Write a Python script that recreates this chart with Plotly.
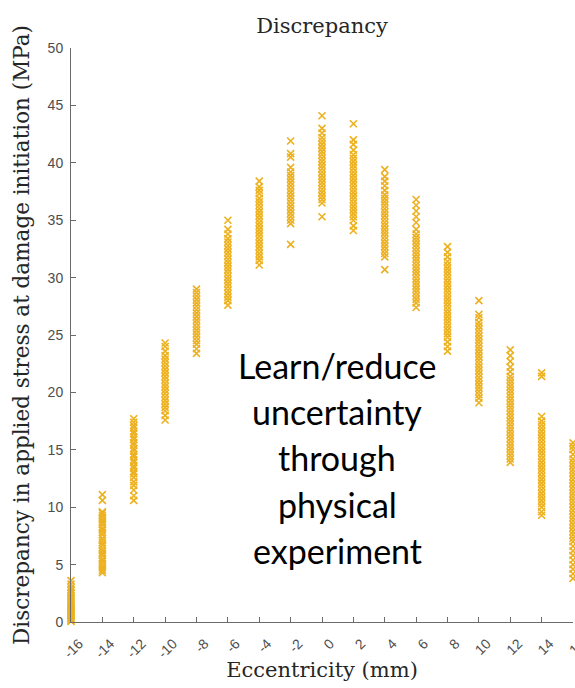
import plotly.graph_objects as go

# Eccentricity levels (mm) and the stress discrepancy samples (MPa) at each level
eccentricity = [-16, -14, -12, -10, -8, -6, -4, -2, 0, 2, 4, 6, 8, 10, 12, 14, 16]
tick_text = ["-16", "-14", "-12", "-10", "-8", "-6", "-4", "-2", "0",
             "2", "4", "6", "8", "10", "12", "14", "16"]

d_m16 = [0.05, 0.15, 0.25, 0.35, 0.45, 0.55, 0.65, 0.8, 0.9, 1.0, 1.1, 1.25, 1.4,
         1.55, 1.7, 1.9, 2.1, 2.3, 2.5, 2.6, 2.8, 3.0, 3.3, 3.6]
d_m14 = [4.3, 4.5, 4.7, 4.9, 5.1, 5.3, 5.5, 5.8, 6.0, 6.2, 6.4, 6.7, 6.9, 7.1, 7.3,
         7.6, 7.8, 8.0, 8.2, 8.5, 8.7, 8.9, 9.1, 9.3, 9.5, 9.6, 10.6, 11.1]
d_m12 = [10.6, 11.0, 11.5, 11.9, 12.2, 12.6, 12.9, 13.1, 13.4, 13.6, 13.9, 14.1, 14.4,
         14.6, 14.9, 15.1, 15.4, 15.6, 15.9, 16.1, 16.4, 16.6, 16.9, 17.1, 17.4, 17.7]
d_m10 = [17.6, 18.0, 18.4, 18.7, 19.0, 19.3, 19.6, 19.9, 20.2, 20.5, 20.8, 21.1, 21.4,
         21.7, 22.0, 22.3, 22.6, 22.9, 23.2, 23.6, 24.0, 24.3]
d_m8 = [23.4, 23.8, 24.2, 24.5, 24.8, 25.1, 25.4, 25.7, 26.0, 26.3, 26.6, 26.9, 27.2,
        27.5, 27.8, 28.1, 28.4, 28.7, 29.0]
d_m6 = [27.6, 28.0, 28.3, 28.6, 28.9, 29.2, 29.5, 29.8, 30.1, 30.4, 30.7, 31.0, 31.3,
        31.6, 31.9, 32.2, 32.5, 32.8, 33.1, 33.4, 33.8, 34.2, 35.0]
d_m4 = [31.1, 31.5, 31.8, 32.1, 32.4, 32.7, 33.0, 33.3, 33.6, 33.9, 34.2, 34.5, 34.8,
        35.1, 35.4, 35.7, 36.0, 36.3, 36.6, 36.9, 37.3, 37.6, 37.9, 38.4]
d_m2 = [32.9, 34.7, 35.0, 35.3, 35.6, 35.9, 36.2, 36.5, 36.8, 37.1, 37.4, 37.7, 38.0,
        38.3, 38.6, 38.9, 39.2, 39.6, 40.5, 40.8, 41.9]
d_0 = [35.3, 36.5, 36.8, 37.1, 37.4, 37.7, 38.0, 38.3, 38.6, 38.9, 39.2, 39.5, 39.8,
       40.1, 40.4, 40.7, 41.0, 41.3, 41.6, 41.9, 42.2, 42.6, 43.0, 44.1]
d_2 = [34.1, 34.5, 35.0, 35.3, 35.6, 35.9, 36.2, 36.5, 36.8, 37.1, 37.4, 37.7, 38.0,
       38.3, 38.6, 38.9, 39.2, 39.5, 39.8, 40.1, 40.4, 40.7, 41.1, 41.6, 42.0, 43.4]
d_4 = [30.7, 31.8, 32.1, 32.4, 32.7, 33.0, 33.3, 33.6, 33.9, 34.2, 34.5, 34.8, 35.1,
       35.4, 35.7, 36.0, 36.3, 36.6, 36.9, 37.2, 37.6, 38.0, 38.4, 38.8, 39.4]
d_6 = [27.4, 27.8, 28.1, 28.4, 28.7, 29.0, 29.3, 29.6, 29.9, 30.2, 30.5, 30.8, 31.1,
       31.4, 31.7, 32.0, 32.3, 32.6, 32.9, 33.2, 33.5, 33.8, 34.2, 34.8, 35.3, 35.8,
       36.3, 36.8]
d_8 = [23.6, 24.0, 24.4, 24.8, 25.1, 25.4, 25.7, 26.0, 26.3, 26.6, 26.9, 27.2, 27.5,
       27.8, 28.1, 28.4, 28.7, 29.0, 29.3, 29.6, 29.9, 30.2, 30.5, 30.8, 31.1, 31.4,
       31.8, 32.2, 32.7]
d_10 = [19.1, 19.5, 19.8, 20.1, 20.4, 20.7, 21.0, 21.3, 21.6, 21.9, 22.2, 22.5, 22.8,
        23.1, 23.4, 23.7, 24.0, 24.3, 24.6, 24.9, 25.2, 25.5, 25.8, 26.1, 26.5, 26.8,
        28.0]
d_12 = [13.9, 14.2, 14.5, 14.8, 15.1, 15.4, 15.7, 16.0, 16.3, 16.6, 16.9, 17.2, 17.5,
        17.8, 18.1, 18.4, 18.7, 19.0, 19.3, 19.6, 19.9, 20.2, 20.5, 20.8, 21.1, 21.4,
        21.8, 22.2, 22.7, 23.2, 23.7]
d_14 = [9.3, 9.6, 10.0, 10.3, 10.6, 10.9, 11.2, 11.5, 11.8, 12.1, 12.4, 12.7, 13.0,
        13.3, 13.6, 13.9, 14.2, 14.5, 14.8, 15.1, 15.4, 15.7, 16.0, 16.3, 16.6, 16.9,
        17.2, 17.5, 17.9, 21.4, 21.7]
d_16 = [3.8, 4.2, 4.6, 5.0, 5.4, 5.8, 6.2, 6.6, 7.0, 7.3, 7.6, 7.9, 8.2, 8.5, 8.8,
        9.1, 9.4, 9.7, 10.0, 10.3, 10.6, 10.9, 11.2, 11.5, 11.8, 12.1, 12.4, 12.7,
        13.0, 13.3, 13.6, 13.9, 14.2, 14.6, 15.0, 15.3, 15.6]

discrepancy = [d_m16, d_m14, d_m12, d_m10, d_m8, d_m6, d_m4, d_m2, d_0,
               d_2, d_4, d_6, d_8, d_10, d_12, d_14, d_16]

note_lines = ["Learn/reduce", "uncertainty", "through", "physical", "experiment"]

MARK = "#EDB120"
AXIS = "#6b6b6b"
TICKFONT = dict(family="Liberation Sans, Arial, sans-serif", size=14, color="#4d4d4d")
SERIF = dict(family="DejaVu Serif, serif", size=21, color="#262626")
YSERIF = dict(family="DejaVu Serif, serif", size=21.5, color="#262626")

xs, ys = [], []
for e, vals in zip(eccentricity, discrepancy):
    xs.extend([e] * len(vals))
    ys.extend(vals)

fig = go.Figure()
fig.add_trace(go.Scatter(
    x=xs, y=ys, mode="markers", cliponaxis=False, showlegend=False,
    marker=dict(symbol="x-thin", size=7, color=MARK,
                line=dict(width=1.6, color=MARK)),
))

# Overlay note, one annotation per line for tighter control of line pitch
line_y = [0.447, 0.367, 0.287, 0.205, 0.125]
for txt, yy in zip(note_lines, line_y):
    fig.add_annotation(
        text=txt, xref="paper", yref="paper", x=0.530, y=yy,
        xanchor="center", yanchor="middle", showarrow=False,
        font=dict(family="Lato, sans-serif", size=34, color="#000000"),
    )

fig.update_layout(
    width=575, height=688, autosize=False,
    margin=dict(l=71, r=2, t=48, b=66),
    paper_bgcolor="white", plot_bgcolor="white",
    title=dict(text="Discrepancy", font=SERIF, x=0.5, xref="paper",
               y=1 - 26 / 688, yref="container", xanchor="center", yanchor="middle"),
    xaxis=dict(
        range=[-16, 16], tickmode="array", tickvals=eccentricity, ticktext=tick_text,
        tickangle=-45, ticks="inside", ticklen=5, tickcolor=AXIS, tickwidth=1,
        ticklabelshift=8, ticklabelstandoff=7, ticklabeloverflow="allow",
        automargin=False,
        showline=True, linecolor=AXIS, linewidth=1, showgrid=False, zeroline=False,
        tickfont=TICKFONT,
        title=dict(text="Eccentricity (mm)", font=SERIF, standoff=2),
    ),
    yaxis=dict(
        range=[0, 50], tickmode="linear", tick0=0, dtick=5,
        ticks="inside", ticklen=5, tickcolor=AXIS, tickwidth=1,
        ticklabelstandoff=4, automargin=False,
        showline=True, linecolor=AXIS, linewidth=1, showgrid=False, zeroline=False,
        tickfont=TICKFONT,
        title=dict(text="Discrepancy in applied stress at damage initiation (MPa)",
                   font=YSERIF, standoff=12),
    ),
)

fig.write_html("out.html")
